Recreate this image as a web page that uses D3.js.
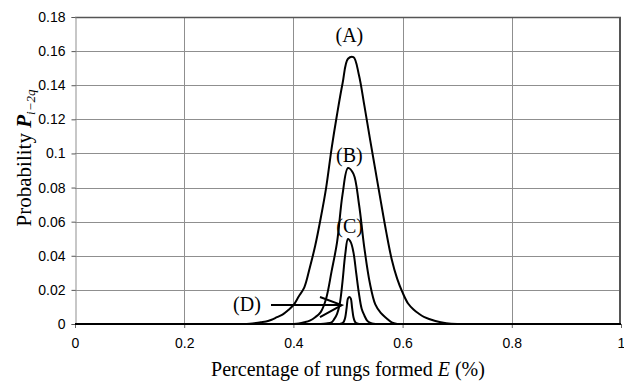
<!DOCTYPE html>
<html><head><meta charset="utf-8">
<script src="https://cdn.jsdelivr.net/npm/d3@7"></script>
<style>html,body{margin:0;padding:0;background:#fff;}svg{display:block;}</style>
</head><body>
<svg id="c" width="624" height="383"></svg>
<script>
// ---- data ----
const xTicks = [0, 0.2, 0.4, 0.6, 0.8, 1];
const xTickLabels = ["0", "0.2", "0.4", "0.6", "0.8", "1"];
const yTicks = [0, 0.02, 0.04, 0.06, 0.08, 0.1, 0.12, 0.14, 0.16, 0.18];
const yTickLabels = ["0", "0.02", "0.04", "0.06", "0.08", "0.1", "0.12", "0.14", "0.16", "0.18"];

const eA = [0.30,0.32,0.34,0.35,0.36,0.37,0.38,0.39,0.40,0.41,0.42,0.43,0.44,0.45,0.46,0.47,0.48,0.49,0.50,0.51,0.52,0.53,0.54,0.55,0.56,0.57,0.58,0.59,0.60,0.61,0.62,0.63,0.64,0.66,0.68,0.70,0.72];
const pA = [0,0.0001,0.001,0.0015,0.0025,0.004,0.0055,0.008,0.011,0.0163,0.0215,0.033,0.046,0.062,0.080,0.103,0.123,0.141,0.1555,0.1565,0.146,0.128,0.109,0.0905,0.072,0.054,0.038,0.0266,0.0184,0.012,0.0085,0.006,0.004,0.0018,0.0005,0,0];

const eB = [0.40,0.41,0.42,0.43,0.44,0.45,0.46,0.47,0.48,0.49,0.50,0.51,0.52,0.53,0.54,0.55,0.56,0.57,0.58,0.59];
const pB = [0,0.0003,0.001,0.002,0.004,0.007,0.015,0.031,0.048,0.076,0.0915,0.088,0.0705,0.0445,0.024,0.0115,0.0065,0.0035,0.001,0];

const eC = [0.45,0.46,0.47,0.475,0.48,0.485,0.49,0.495,0.50,0.505,0.51,0.515,0.52,0.525,0.53,0.535,0.54,0.55];
const pC = [0,0.0003,0.001,0.003,0.006,0.012,0.025,0.041,0.0498,0.048,0.042,0.030,0.018,0.009,0.005,0.002,0.0008,0];

const eD = [0.485,0.49,0.4925,0.495,0.4975,0.50,0.5025,0.505,0.5075,0.51,0.5125,0.515,0.52];
const pD = [0,0.0005,0.0015,0.004,0.0095,0.015,0.0158,0.015,0.0095,0.004,0.0015,0.0005,0];

const seriesNames = ["A", "B", "C", "D"];
// label anchor points (E, P) for each series label
const labelE = [0.5025, 0.5025, 0.503, 0.315];
const labelP = [0.1652, 0.0948, 0.0531, 0.0077];
// arrow for (D): tail, tip, head ends (E, P)
const arrowE = [0.359, 0.4885, 0.4487, 0.4487];
const arrowP = [0.0111, 0.0111, 0.0158, 0.0041];

// ---- chart ----
const svg = d3.select("#c");
const margin = {left: 75, right: 3, top: 17, bottom: 59};
const W = 624, H = 383;
const x = d3.scaleLinear().domain([0, 1]).range([margin.left, W - margin.right]);
const y = d3.scaleLinear().domain([0, 0.18]).range([H - margin.bottom, margin.top]);

const gridColor = "#8f8f8f";
// horizontal grid
svg.append("g").selectAll("line").data(yTicks.filter(d => d > 0 && d < 0.18)).join("line")
  .attr("x1", x(0)).attr("x2", x(1))
  .attr("y1", d => Math.round(y(d)) + 0.5).attr("y2", d => Math.round(y(d)) + 0.5)
  .attr("stroke", gridColor).attr("stroke-width", 1);
// vertical grid
svg.append("g").selectAll("line").data(xTicks.filter(d => d > 0 && d < 1)).join("line")
  .attr("x1", d => Math.round(x(d)) + 0.5).attr("x2", d => Math.round(x(d)) + 0.5)
  .attr("y1", y(0)).attr("y2", y(0.18))
  .attr("stroke", gridColor).attr("stroke-width", 1);
// top & right border
svg.append("line").attr("x1", x(0)).attr("x2", x(1)).attr("y1", y(0.18) + 0.5).attr("y2", y(0.18) + 0.5)
  .attr("stroke", "#555").attr("stroke-width", 1.5);
svg.append("line").attr("x1", x(1) - 1).attr("x2", x(1) - 1).attr("y1", y(0.18)).attr("y2", y(0))
  .attr("stroke", "#555").attr("stroke-width", 2);

// y axis
const yAxis = d3.axisLeft(y).tickValues(yTicks).tickFormat((d, i) => yTickLabels[i]).tickSize(4).tickPadding(6);
const gy = svg.append("g").attr("transform", `translate(${x(0) + 0.5},0)`).call(yAxis);
gy.select(".domain").attr("stroke", "#8f8f8f");
gy.selectAll(".tick line").attr("stroke", "#555");
gy.selectAll("text").attr("font-family", "Liberation Sans, Arial, sans-serif").attr("font-size", 14).attr("fill", "#000");

// x axis
const xAxis = d3.axisBottom(x).tickValues(xTicks).tickFormat((d, i) => xTickLabels[i]).tickSize(4).tickPadding(10);
const gx = svg.append("g").attr("transform", `translate(0,${y(0)})`).call(xAxis);
gx.select(".domain").attr("stroke", "none");
gx.selectAll(".tick line").attr("stroke", "#666");
gx.selectAll("text").attr("font-family", "Liberation Sans, Arial, sans-serif").attr("font-size", 14).attr("fill", "#000");

// curves
const line = d3.line().x(d => x(d[0])).y(d => Math.min(y(0), y(d[1]))).curve(d3.curveCatmullRom.alpha(0.5));
const series = [[eA, pA], [eB, pB], [eC, pC], [eD, pD]];
svg.append("g").selectAll("path").data(series).join("path")
  .attr("d", s => line(s[0].map((e, i) => [e, s[1][i]])))
  .attr("fill", "none").attr("stroke", "#000").attr("stroke-width", 2).attr("stroke-linejoin", "round");

svg.append("line").attr("x1", x(0)).attr("x2", x(1)).attr("y1", y(0)).attr("y2", y(0))
  .attr("stroke", "#000").attr("stroke-width", 2);

// labels
svg.append("g").selectAll("text").data(seriesNames).join("text")
  .attr("x", (d, i) => x(labelE[i])).attr("y", (d, i) => y(labelP[i]))
  .attr("text-anchor", "middle")
  .attr("font-family", "Liberation Serif, Times New Roman, serif").attr("font-size", 20)
  .text(d => "(" + d + ")");

// arrow
const ap = arrowE.map((e, i) => [x(e), y(arrowP[i])]);
svg.append("path")
  .attr("d", `M${ap[0][0]},${ap[0][1]}L${ap[1][0]},${ap[1][1]}M${ap[2][0]},${ap[2][1]}L${ap[1][0]},${ap[1][1]}L${ap[3][0]},${ap[3][1]}`)
  .attr("fill", "none").attr("stroke", "#000").attr("stroke-width", 2);

// axis titles
const xt = svg.append("text").attr("x", x(0.5)).attr("y", 376).attr("text-anchor", "middle")
  .attr("font-family", "Liberation Serif, Times New Roman, serif").attr("font-size", 20);
xt.append("tspan").text("Percentage of rungs formed ");
xt.append("tspan").attr("font-style", "italic").text("E");
xt.append("tspan").text(" (%)");

const yt = svg.append("text").attr("transform", `translate(31,${158}) rotate(-90)`).attr("text-anchor", "middle")
  .attr("font-family", "Liberation Serif, Times New Roman, serif").attr("font-size", 21);
yt.append("tspan").text("Probability ");
yt.append("tspan").attr("font-style", "italic").attr("font-weight", "bold").text("P");
yt.append("tspan").attr("font-style", "italic").attr("font-size", 13).attr("dy", 4).text("i\u22122q");
</script>
</body></html>
